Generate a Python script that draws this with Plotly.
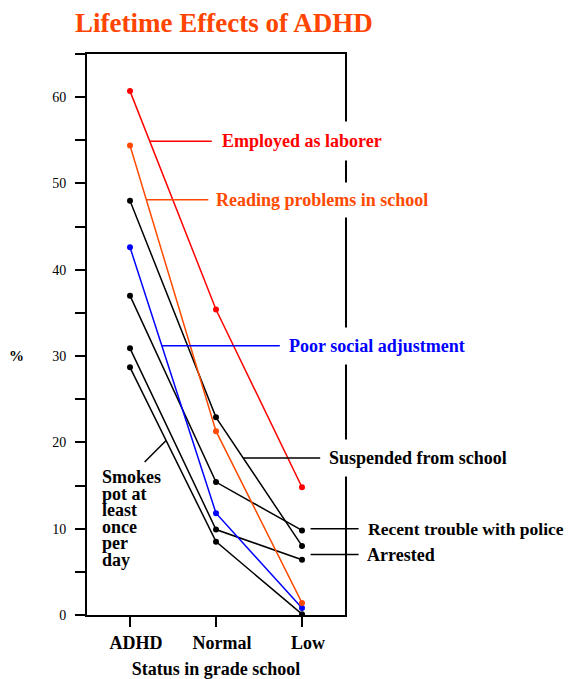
import plotly.graph_objects as go

# ---------------- data ----------------
categories = ["ADHD", "Normal", "Low"]
employed_laborer = [60.7, 35.4, 14.8]
reading_problems = [54.4, 21.3, 1.4]
suspended_school = [48.0, 22.9, 8.0]
poor_social = [42.6, 11.8, 0.8]
police_trouble = [37.0, 15.4, 9.8]
arrested = [30.9, 9.9, 6.4]
smokes_pot = [28.7, 8.5, 0.1]

y_tick_vals = [0, 10, 20, 30, 40, 50, 60]
smokes_label_lines = ["Smokes", "pot at", "least", "once", "per", "day"]

# ---------------- style ----------------
RED = "#ff0000"
ORANGE = "#ff4a00"
BLUE = "#0000ff"
BLACK = "#000000"
FONT = "Liberation Serif"

# the page body has an 8px margin; size the figure so it lands on the window
OFF = 8
W, H = 575 - OFF, 679 - OFF
ML, MR, MT, MB = 87 - OFF, 230, 54 - OFF, 64
Y_MAX = 65
plot_w = W - ML - MR
plot_h = H - MT - MB


def px_to_x(px):
    # px: window pixel
    return (px - OFF - ML) / plot_w * 3 - 0.5


def py_to_y(py):
    return (H - MB - (py - OFF)) / plot_h * Y_MAX


def on_line(vals, t):
    i = min(int(t), len(vals) - 2)
    f = t - i
    return vals[i] + (vals[i + 1] - vals[i]) * f


series = [
    ("Smokes pot at least once per day", smokes_pot, BLACK),
    ("Arrested", arrested, BLACK),
    ("Recent trouble with police", police_trouble, BLACK),
    ("Suspended from school", suspended_school, BLACK),
    ("Poor social adjustment", poor_social, BLUE),
    ("Reading problems in school", reading_problems, ORANGE),
    ("Employed as laborer", employed_laborer, RED),
]

fig = go.Figure()
for name, vals, col in series:
    fig.add_trace(go.Scatter(
        x=categories, y=vals, mode="lines+markers", name=name,
        line=dict(color=col, width=1.5),
        marker=dict(color=col, size=6),
        showlegend=False, hoverinfo="name+y",
    ))

annotations = []

# labelled leader lines: (text, colour, head_x, head_y, ax, pad, size)
labels = [
    ("Employed as laborer", RED, 0.23, on_line(employed_laborer, 0.23), 62, 9, 18),
    ("Reading problems in school", ORANGE, 0.19, on_line(reading_problems, 0.19), 62, 7, 18),
    ("Poor social adjustment", BLUE, 0.37, on_line(poor_social, 0.37), 118, 8, 18),
    ("Suspended from school", BLACK, 1.316, on_line(suspended_school, 1.316), 77, 8, 18),
    ("Recent trouble with police", BLACK, 2.1, police_trouble[2] + 0.2, 48, 8, 17.5),
    ("Arrested", BLACK, 2.1, arrested[2] + 0.6, 48, 7, 18),
]
for text, col, hx, hy, ax, pad, size in labels:
    annotations.append(dict(
        x=hx, y=hy, xref="x", yref="y",
        text=text, showarrow=True, arrowhead=0, arrowwidth=1.5,
        arrowcolor=col, ax=ax, ay=0, axref="pixel", ayref="pixel",
        xanchor="left", yanchor="middle", standoff=0, startstandoff=0,
        font=dict(family=FONT, size=size, color=col, weight="bold"),
        bgcolor="white", borderpad=pad,
    ))

# leader for "Smokes pot..." (arrow only)
sx = 0.42
annotations.append(dict(
    x=sx, y=on_line(smokes_pot, sx), xref="x", yref="y", text="",
    showarrow=True, arrowhead=0, arrowwidth=1.5, arrowcolor=BLACK,
    ax=-23, ay=23, axref="pixel", ayref="pixel", standoff=0,
))

# multi-line label with tight leading
for k, line_txt in enumerate(smokes_label_lines):
    annotations.append(dict(
        x=px_to_x(101), y=py_to_y(477 + 16.5 * k), xref="x", yref="y",
        text=line_txt, showarrow=False, xanchor="left", yanchor="middle",
        font=dict(family=FONT, size=18, color=BLACK, weight="bold"),
        borderpad=0,
    ))

# "%" axis label
annotations.append(dict(
    x=(16 - OFF - ML) / plot_w, y=30, xref="paper", yref="y", text="%",
    showarrow=False, xanchor="center", yanchor="middle",
    font=dict(family=FONT, size=15, color=BLACK, weight="bold"),
))

fig.update_layout(
    width=W, height=H,
    margin=dict(l=ML, r=MR, t=MT, b=MB, autoexpand=False),
    paper_bgcolor="white", plot_bgcolor="white",
    title=dict(
        text="Lifetime Effects of ADHD",
        font=dict(family=FONT, size=27, color="#ff4500", weight="bold"),
        x=(75 - OFF) / W, xanchor="left", xref="container",
        y=1 - (23 - OFF) / H, yanchor="middle", yref="container",
    ),
    annotations=annotations,
    showlegend=False,
)

fig.update_xaxes(
    type="category", range=[-0.5, 2.5], automargin=False,
    showline=True, linewidth=2, linecolor=BLACK, mirror=True,
    ticks="outside", ticklen=10, tickwidth=1.5, tickcolor=BLACK,
    tickfont=dict(family=FONT, size=18, color=BLACK, weight="bold"),
    ticklabelshift=6,
    showgrid=False, zeroline=False,
    title=dict(text="Status in grade school",
               font=dict(family=FONT, size=18, color=BLACK, weight="bold"),
               standoff=11),
)
fig.update_yaxes(
    range=[0, Y_MAX], tickmode="array", tickvals=y_tick_vals,
    ticktext=[str(v) for v in y_tick_vals], automargin=False,
    showline=True, linewidth=2, linecolor=BLACK, mirror=True,
    ticks="outside", ticklen=10, tickwidth=1.5, tickcolor=BLACK,
    minor=dict(dtick=5, tick0=0, ticks="outside", ticklen=10, tickwidth=1.5,
               tickcolor=BLACK, showgrid=False),
    tickfont=dict(family=FONT, size=14, color=BLACK),
    ticklabelstandoff=6,
    showgrid=False, zeroline=False,
)

fig.write_html("out.html")
